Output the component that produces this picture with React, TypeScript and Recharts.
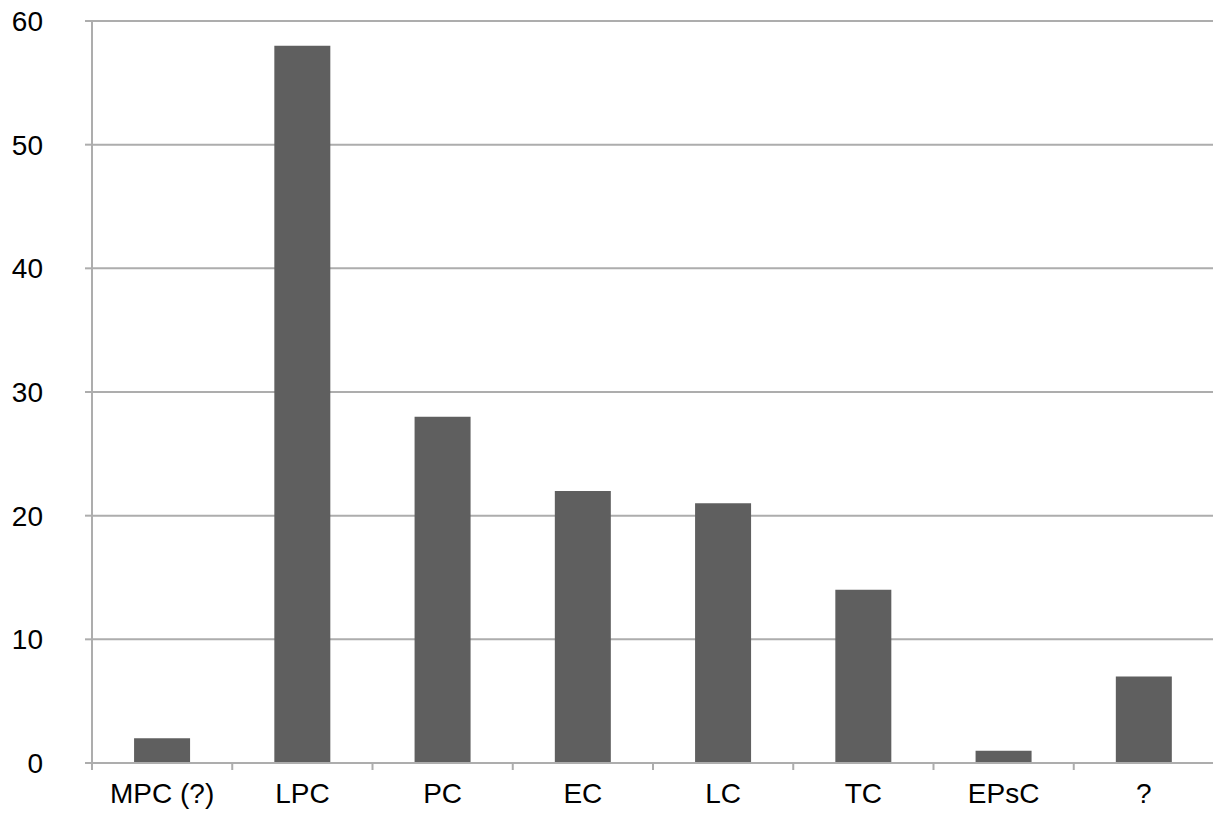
import { Bar, BarChart, CartesianGrid, XAxis, YAxis } from 'recharts';

const categories = ['MPC (?)', 'LPC', 'PC', 'EC', 'LC', 'TC', 'EPsC', '?'];
const counts = [2, 58, 28, 22, 21, 14, 1, 7];
const yTicks = [0, 10, 20, 30, 40, 50, 60];

const COLORS = {
  bar: '#5f5f5f',
  grid: '#adadad',
  text: '#000000'
};

const FONT = '"Liberation Sans", Arial, Helvetica, sans-serif';

const data = categories.map((name, i) => ({ name, count: counts[i] }));

// category label plus a small tick mark on the left edge of each band
const CategoryTick = (props: any) => {
  const { x, y, payload } = props;
  const half = payload?.offset ?? 0;
  return (
    <g>
      <line x1={x - half} x2={x - half} y1={y} y2={y + 7} stroke={COLORS.grid} strokeWidth={2} />
      <text x={x} y={y + 20} dy="0.71em" textAnchor="middle" fill={COLORS.text} fontSize={28} fontFamily={FONT}>
        {payload.value}
      </text>
    </g>
  );
};

export default function App() {
  return (
    <div style={{ position: 'absolute', left: 0, top: 0, fontFamily: FONT }}>
      <BarChart
        width={1214}
        height={821}
        data={data}
        margin={{ top: 21, right: 0, left: 0, bottom: 0 }}
        barCategoryGap="30%"
      >
        <CartesianGrid horizontal vertical={false} stroke={COLORS.grid} strokeWidth={2} />
        <XAxis
          dataKey="name"
          axisLine={{ stroke: COLORS.grid, strokeWidth: 2 }}
          tickLine={false}
          tickSize={0}
          tickMargin={0}
          height={58}
          interval={0}
          tick={<CategoryTick />}
        />
        <YAxis
          domain={[0, 60]}
          ticks={yTicks}
          width={92}
          axisLine={{ stroke: COLORS.grid, strokeWidth: 2 }}
          tickLine={{ stroke: COLORS.grid, strokeWidth: 2 }}
          tickSize={7}
          tickMargin={42}
          tick={{ fill: COLORS.text, fontSize: 28, fontFamily: FONT }}
        />
        <Bar dataKey="count" fill={COLORS.bar} isAnimationActive={false} />
      </BarChart>
    </div>
  );
}
